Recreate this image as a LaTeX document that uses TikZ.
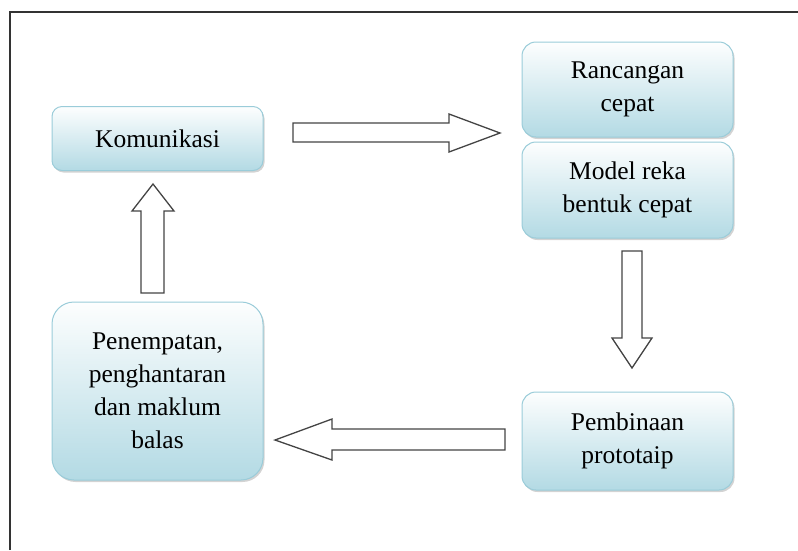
\documentclass[tikz,border=0pt]{standalone}
\usepackage{fontspec}
\setmainfont{Liberation Serif}
\usetikzlibrary{shadows}
\definecolor{boxtop}{HTML}{FDFEFE}
\definecolor{boxbot}{HTML}{B3DAE4}
\definecolor{boxline}{HTML}{9ACCD9}
\definecolor{arrline}{HTML}{444444}
\tikzset{
  box/.style={rounded corners=10pt, draw=boxline, line width=1pt,
    top color=boxtop, bottom color=boxbot, align=center,
    font=\fontsize{25.5}{33}\selectfont, inner sep=0pt,
    drop shadow={shadow xshift=1.5pt, shadow yshift=-2pt, opacity=0.35, fill=gray}},
  blockarrow/.style={draw=arrline, line width=1.3pt, fill=white, line join=miter},
  frame/.style={draw=black!80, line width=1.6pt}
}
\begin{document}
\begin{tikzpicture}[x=1pt,y=-1pt]
\useasboundingbox (0,0) rectangle (798,550);
\draw[frame] (10,550) -- (10,12) -- (798,12);
\node[box, minimum width=211pt, minimum height=64pt] (kom) at (157.5,138.5) {Komunikasi};
\node[box, minimum width=211pt, minimum height=95pt, rounded corners=14pt] (ran) at (627.5,89.5) {Rancangan\\cepat};
\node[box, minimum width=211pt, minimum height=96pt, rounded corners=14pt] (mod) at (627.5,190) {Model reka\\bentuk cepat};
\node[box, minimum width=211pt, minimum height=98pt, rounded corners=14pt] (pem) at (627.5,441) {Pembinaan\\prototaip};
\node[box, minimum width=211pt, minimum height=178pt, rounded corners=22pt] (pen) at (157.5,391) {Penempatan,\\penghantaran\\dan maklum\\balas};
\draw[blockarrow] (293,123) -- (449,123) -- (449,114) -- (500,133) -- (449,152) -- (449,142) -- (293,142) -- cycle;
\draw[blockarrow] (622,251) -- (642,251) -- (642,338) -- (652,338) -- (632,368) -- (612,338) -- (622,338) -- cycle;
\draw[blockarrow] (505,429) -- (332,429) -- (332,419) -- (275,440) -- (332,460) -- (332,450) -- (505,450) -- cycle;
\draw[blockarrow] (141,293) -- (141,211) -- (132,211) -- (153,184) -- (174,211) -- (164,211) -- (164,293) -- cycle;
\end{tikzpicture}
\end{document}
